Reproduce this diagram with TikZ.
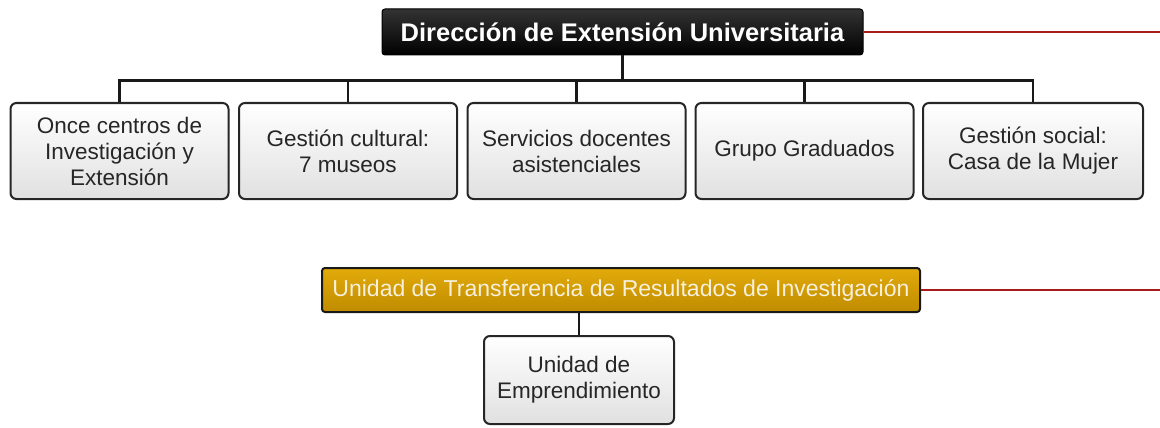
\documentclass[tikz,border=0pt]{standalone}
\usepackage{fontspec}
\setmainfont{Liberation Sans}
\begin{document}
\begin{tikzpicture}[x=1pt,y=-1pt,
  unitbox/.style={draw=black!85, line width=2pt, rounded corners=6pt,
    top color=white, bottom color=black!12, align=center, inner sep=0pt,
    minimum width=218pt, minimum height=96pt, font=\fontsize{22.5}{26}\selectfont, text=black!85},
  headbox/.style={draw=black, line width=1pt, rounded corners=3pt,
    top color=black!80, bottom color=black, text=white, inner sep=0pt,
    font=\fontsize{25.5}{28}\selectfont\bfseries},
  goldbox/.style={draw=black!90, line width=2pt, rounded corners=3pt,
    top color=gold1, bottom color=gold2, text=goldtext, inner sep=0pt,
    font=\fontsize{23}{26}\selectfont},
  conn/.style={line width=2.4pt, black!90},
  redline/.style={line width=2.6pt, redc}]
\definecolor{gold1}{HTML}{E2AA0A}
\definecolor{gold2}{HTML}{C08C00}
\definecolor{goldtext}{HTML}{F6F0DC}
\definecolor{redc}{HTML}{A81C1C}
\useasboundingbox (0,0) rectangle (1160,428);
% head 1
\node[headbox, minimum width=481pt, minimum height=46pt] (h1) at (622.5,32) {Dirección de Extensión Universitaria};
\coordinate (e1) at (1160,32);
\draw[redline] (h1.east) -- (e1);
% children
\node[unitbox] (b1) at (119.5,151) {Once centros de\\Investigación y\\Extensión};
\node[unitbox] (b2) at (348,151) {Gestión cultural:\\7 museos};
\node[unitbox] (b3) at (576.5,151) {Servicios docentes\\asistenciales};
\node[unitbox] (b4) at (804.5,151) {Grupo Graduados};
\node[unitbox, minimum width=220pt] (b5) at (1033,151) {Gestión social:\\Casa de la Mujer};
\draw[conn] (h1.south) -- ++(0,25) coordinate (j1);
\draw[conn] (b1.north) |- (j1) -| (b5.north);
\draw[conn] (b2.north) -- (b2.north |- j1);
\draw[conn] (b3.north) -- (b3.north |- j1);
\draw[conn] (b4.north) -- (b4.north |- j1);
% head 2
\node[goldbox, minimum width=598pt, minimum height=44pt] (h2) at (621,290) {Unidad de Transferencia de Resultados de Investigación};
\coordinate (e2) at (1160,290);
\draw[redline] (h2.east) -- (e2);
\node[unitbox, minimum width=190pt, minimum height=88pt] (c1) at (579,380) {Unidad de\\Emprendimiento};
\draw[conn] (h2.south -| c1.north) -- (c1.north);
\end{tikzpicture}
\end{document}
